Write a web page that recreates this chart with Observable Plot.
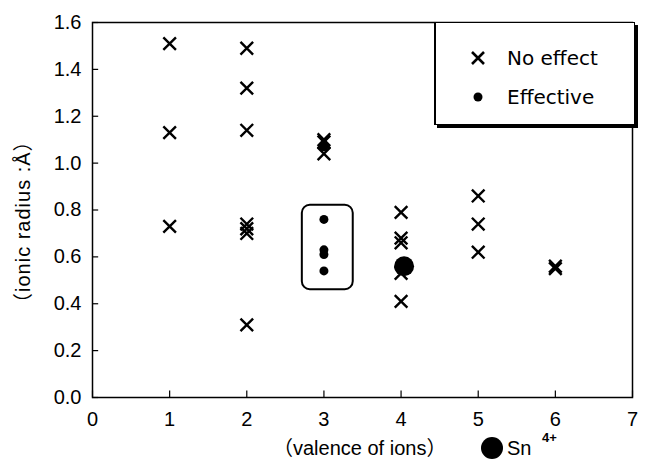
<!DOCTYPE html>
<html><head><meta charset="utf-8">
<script src="https://cdn.jsdelivr.net/npm/d3@7"></script>
<script src="https://cdn.jsdelivr.net/npm/@observablehq/plot@0.6"></script>
<style>
body{margin:0;background:#fff;}
#wrap{position:relative;width:646px;height:459px;font-family:"Liberation Sans",Arial,"Noto Sans CJK JP",sans-serif;color:#000;}
#wrap > svg{position:absolute;left:0;top:0;}
.legend{position:absolute;left:434px;top:22px;width:198px;height:101px;border:1.5px solid #000;border-left-width:2.5px;background:#fff;box-shadow:3px 3px 0 #000;}
.lg{position:absolute;font-family:"DejaVu Sans",sans-serif;font-size:20px;line-height:20px;white-space:nowrap;}
.xl{position:absolute;font-size:20px;line-height:20px;white-space:nowrap;}
.yl{position:absolute;font-size:20px;line-height:20px;white-space:nowrap;letter-spacing:1px;transform-origin:0 0;}
</style></head><body>
<div id="wrap"></div>
<script>
const valenceNoEffect = [1,1,1, 2,2,2,2,2,2,2, 3,3,3, 4,4,4,4,4, 5,5,5, 6,6];
const radiusNoEffect  = [1.51,1.13,0.73, 1.49,1.32,1.14,0.74,0.72,0.70,0.31, 1.10,1.09,1.04, 0.79,0.68,0.66,0.53,0.41, 0.86,0.74,0.62, 0.56,0.55];
const valenceEffective = [3,3,3,3,3];
const radiusEffective  = [1.07,0.76,0.63,0.61,0.54];
const valenceSn = [4];
const radiusSn = [0.56];
const xTicks = [0,1,2,3,4,5,6,7];
const yTicks = [0,0.2,0.4,0.6,0.8,1.0,1.2,1.4,1.6];
const boxX = [2.72,3.38];
const boxY = [0.46,0.82];

const noEff = valenceNoEffect.map((v,i)=>({v, r: radiusNoEffect[i]}));
const eff = valenceEffective.map((v,i)=>({v, r: radiusEffective[i]}));
const sn = valenceSn.map((v,i)=>({v, r: radiusSn[i]}));

const chart = Plot.plot({
  width: 646, height: 459,
  marginLeft: 92, marginRight: 14, marginTop: 22, marginBottom: 62,
  style: {fontFamily: '"Liberation Sans",Arial,sans-serif', fontSize: "20px", color: "#000", background: "transparent"},
  x: {domain: [0,7]},
  y: {domain: [0,1.6]},
  marks: [
    Plot.axisX({ticks: xTicks, tickSize: 0, tickPadding: 14, tickFormat: d3.format("d"), fontSize: 20, label: null}),
    Plot.axisY({ticks: yTicks, tickSize: 0, tickPadding: 11, tickFormat: d3.format(".1f"), fontSize: 20, label: null}),
    Plot.ruleX(xTicks, {x: d=>d, y1: 0, y2: 0.028, stroke: "#000", strokeWidth: 1.2}),
    Plot.ruleY(yTicks, {y: d=>d, x1: 0, x2: 0.08, stroke: "#000", strokeWidth: 1.2}),
    Plot.rect([{}], {x1: boxX[0], x2: boxX[1], y1: boxY[0], y2: boxY[1], rx: 8, fill: "none", stroke: "#000", strokeWidth: 2}),
    Plot.dot(noEff, {x: "v", y: "r", symbol: "times", r: 5.8, stroke: "#000", strokeWidth: 2.4}),
    Plot.dot(eff, {x: "v", y: "r", r: 4.5, fill: "#000"}),
    Plot.dot(sn, {x: "v", y: "r", r: 10, fill: "#000", dx: 3}),
    Plot.frame({stroke: "#000", strokeWidth: 1.5})
  ]
});
const wrap = document.getElementById("wrap");
wrap.appendChild(chart);
wrap.insertAdjacentHTML("beforeend", `
<div class="legend">
  <svg width="40" height="100" style="position:absolute;left:28px;top:23px;">
    <path d="M-6,-6L6,6M-6,6L6,-6" transform="translate(14,12)" stroke="#000" stroke-width="2.6" fill="none"/>
    <circle cx="14" cy="51" r="4.5" fill="#000"/>
  </svg>
  <div class="lg" style="left:71px;top:25px;">No effect</div>
  <div class="lg" style="left:71px;top:64px;">Effective</div>
</div>
<div class="yl" id="ylab">（ionic radius :Å）</div>
<div class="xl" style="left:273px;top:438px;">（valence of ions）</div>
<svg width="30" height="30" style="position:absolute;left:481px;top:437px;"><circle cx="11" cy="11" r="11" fill="#000"/></svg>
<div class="xl" style="left:507px;top:438px;">Sn</div>
<div class="xl" style="left:542px;top:428px;font-size:13px;font-weight:bold;">4+</div>
`);
const yl = document.getElementById("ylab");
const w = yl.offsetWidth;
yl.style.left = "13px";
yl.style.top = (221 + w/2) + "px";
yl.style.transform = "rotate(-90deg)";
</script>
</body></html>
